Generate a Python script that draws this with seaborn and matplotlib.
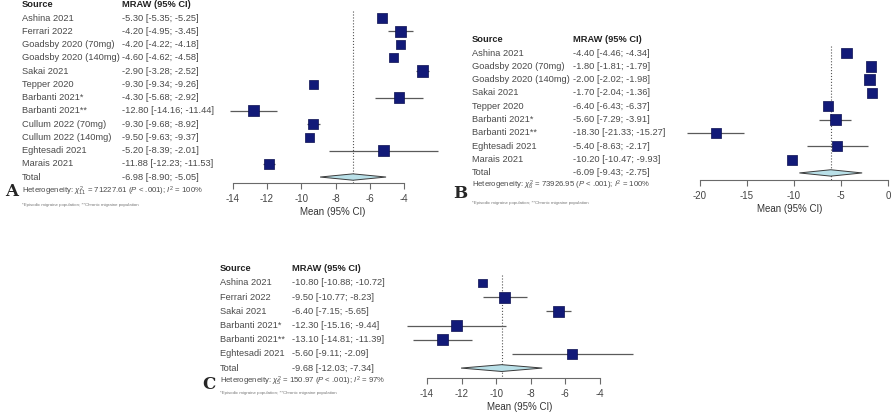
"""
Forest plots of MRAW for three outcomes (panels A, B, C)
"""

import matplotlib
matplotlib.use("Agg")
import matplotlib.pyplot as plt
import matplotlib.transforms as mtransforms
import numpy as np
import pandas as pd
import seaborn as sns


# ============================================================
# Data
# ============================================================

studies_a = [
    "Ashina 2021", "Ferrari 2022", "Goadsby 2020 (70mg)",
    "Goadsby 2020 (140mg)", "Sakai 2021", "Tepper 2020",
    "Barbanti 2021*", "Barbanti 2021**", "Cullum 2022 (70mg)",
    "Cullum 2022 (140mg)", "Eghtesadi 2021", "Marais 2021",
]
mean_a = [-5.30, -4.20, -4.20, -4.60, -2.90, -9.30, -4.30, -12.80, -9.30, -9.50, -5.20, -11.88]
low_a = [-5.35, -4.95, -4.22, -4.62, -3.28, -9.34, -5.68, -14.16, -9.68, -9.63, -8.39, -12.23]
high_a = [-5.25, -3.45, -4.18, -4.58, -2.52, -9.26, -2.92, -11.44, -8.92, -9.37, -2.01, -11.53]
weight_a = [8.2, 8.6, 7.6, 7.6, 8.8, 7.6, 8.6, 8.8, 8.4, 7.8, 8.4, 8.4]
total_a = [-6.98, -8.90, -5.05]
het_a = r"Heterogeneity: $\chi^2_{11}$ = 71227.61 ($P$ < .001); $I^2$ = 100%"

studies_b = [
    "Ashina 2021", "Goadsby 2020 (70mg)", "Goadsby 2020 (140mg)",
    "Sakai 2021", "Tepper 2020", "Barbanti 2021*", "Barbanti 2021**",
    "Eghtesadi 2021", "Marais 2021",
]
mean_b = [-4.40, -1.80, -2.00, -1.70, -6.40, -5.60, -18.30, -5.40, -10.20]
low_b = [-4.46, -1.81, -2.02, -2.04, -6.43, -7.29, -21.33, -8.63, -10.47]
high_b = [-4.34, -1.79, -1.98, -1.36, -6.37, -3.91, -15.27, -2.17, -9.93]
weight_b = [8.4, 8.6, 8.6, 8.6, 8.2, 8.4, 8.6, 8.4, 8.2]
total_b = [-6.09, -9.43, -2.75]
het_b = r"Heterogeneity: $\chi^2_{8}$ = 73926.95 ($P$ < .001); $I^2$ = 100%"

studies_c = [
    "Ashina 2021", "Ferrari 2022", "Sakai 2021",
    "Barbanti 2021*", "Barbanti 2021**", "Eghtesadi 2021",
]
mean_c = [-10.80, -9.50, -6.40, -12.30, -13.10, -5.60]
low_c = [-10.88, -10.77, -7.15, -15.16, -14.81, -9.11]
high_c = [-10.72, -8.23, -5.65, -9.44, -11.39, -2.09]
weight_c = [7.6, 8.8, 8.8, 8.8, 8.8, 8.2]
total_c = [-9.68, -12.03, -7.34]
het_c = r"Heterogeneity: $\chi^2_{5}$ = 150.97 ($P$ < .001); $I^2$ = 97%"

footnote = "*Episodic migraine population; **Chronic migraine population"


# ============================================================
# Theme
# ============================================================

sns.set_theme(style="white")
plt.rcParams["font.family"] = ["Liberation Sans", "DejaVu Sans"]
plt.rcParams["axes.unicode_minus"] = False
plt.rcParams["mathtext.fontset"] = "custom"
plt.rcParams["mathtext.rm"] = "Liberation Sans"
plt.rcParams["mathtext.it"] = "Liberation Sans:italic"

W, H = 894, 419
SQUARE = "#121a78"
LINE = "#5a5a5a"
TEXT = "#4a4a4a"
TABLE_SIZE = 6.7

fig = plt.figure(figsize=(W / 100, H / 100), dpi=100)


def add_axes_px(left, top, right, bottom):
    return fig.add_axes([left / W, 1 - bottom / H, (right - left) / W, (bottom - top) / H])


def forest(
    axes_box, xlim, ylim, ticks, bounds,
    studies, mean, low, high, weight, total,
    name_x, value_x, het_text, het_y, foot_y,
):
    ax = add_axes_px(*axes_box)
    rows = np.arange(len(studies))
    total_row = len(studies)

    # confidence intervals
    ax.hlines(rows, low, high, color=LINE, linewidth=0.9, zorder=1, clip_on=False)

    frame = pd.DataFrame({"mean": mean, "row": rows, "weight": weight})
    sns.scatterplot(
        data=frame,
        x="mean",
        y="row",
        size="weight",
        sizes=(40, 64),
        size_norm=(7.6, 8.8),
        marker="s",
        color=SQUARE,
        edgecolor="#0a0f50",
        linewidth=0.5,
        legend=False,
        zorder=2,
        clip_on=False,
        ax=ax,
    )

    # pooled estimate
    m, lo, hi = total
    ax.fill(
        [lo, m, hi, m],
        [total_row, total_row - 0.24, total_row, total_row + 0.24],
        facecolor="#b9e0e8",
        edgecolor="#3a3a3a",
        linewidth=0.7,
        zorder=2,
        clip_on=False,
    )
    ax.vlines(m, -0.55, ylim[0], color="#555555", linestyles=":", linewidth=0.8, zorder=0)

    ax.set_xlim(*xlim)
    ax.set_ylim(*ylim)
    ax.set_xticks(ticks)
    ax.set_xticklabels([f"{t:g}" for t in ticks])
    ax.set_yticks([])
    ax.set_ylabel("")
    ax.set_xlabel("Mean (95% CI)", fontsize=7, color="#333333", labelpad=2)
    for side in ["top", "left", "right"]:
        ax.spines[side].set_visible(False)
    ax.spines["bottom"].set_bounds(*bounds)
    ax.spines["bottom"].set_color("#6a6a6a")
    ax.spines["bottom"].set_linewidth(0.8)
    ax.tick_params(
        axis="x", direction="out", length=4, width=0.8,
        color="#6a6a6a", labelsize=7, labelcolor="#444444", pad=4,
        bottom=True,
    )
    ax.patch.set_alpha(0)

    # table text
    tr = mtransforms.blended_transform_factory(fig.transFigure, ax.transData)
    ax.text(name_x / W, -1, "Source", transform=tr, fontsize=TABLE_SIZE, fontweight="bold",
            color="#222222", va="center", clip_on=False)
    ax.text(value_x / W, -1, "MRAW (95% CI)", transform=tr, fontsize=TABLE_SIZE,
            fontweight="bold", color="#222222", va="center", clip_on=False)
    labels = list(studies) + ["Total"]
    values = list(zip(mean, low, high)) + [tuple(total)]
    for r, (name, (v, a, b)) in enumerate(zip(labels, values)):
        ax.text(name_x / W, r, name, transform=tr, fontsize=TABLE_SIZE, color=TEXT,
                va="center", clip_on=False)
        ax.text(value_x / W, r, f"{v:.2f} [{a:.2f}; {b:.2f}]", transform=tr,
                fontsize=TABLE_SIZE, color=TEXT, va="center", clip_on=False)

    fig.text(name_x / W, 1 - het_y / H, het_text, fontsize=5.6, color=TEXT, va="center")
    fig.text(name_x / W, 1 - foot_y / H, footnote, fontsize=3.2, color="#777777", va="center")
    return ax


# ============================================================
# Panel A
# ============================================================

forest(
    axes_box=(227.6, 4.75, 438.3, 183),
    xlim=(-14.3, -2.0),
    ylim=(12.45, -1),
    ticks=[-14, -12, -10, -8, -6, -4],
    bounds=(-14, -4),
    studies=studies_a, mean=mean_a, low=low_a, high=high_a,
    weight=weight_a, total=total_a,
    name_x=22, value_x=122,
    het_text=het_a, het_y=191, foot_y=205,
)
fig.text(5 / W, 1 - 192 / H, "A", fontsize=12, fontweight="bold",
         family="DejaVu Serif", va="center")

# ============================================================
# Panel B
# ============================================================

forest(
    axes_box=(685.9, 39.7, 892.7, 180),
    xlim=(-21.5, 0.5),
    ylim=(9.53, -1),
    ticks=[-20, -15, -10, -5, 0],
    bounds=(-20, 0),
    studies=studies_b, mean=mean_b, low=low_b, high=high_b,
    weight=weight_b, total=total_b,
    name_x=472, value_x=573,
    het_text=het_b, het_y=185, foot_y=203,
)
fig.text(453 / W, 1 - 193 / H, "B", fontsize=12, fontweight="bold",
         family="DejaVu Serif", va="center")

# ============================================================
# Panel C
# ============================================================

forest(
    axes_box=(404.5, 268.8, 634.6, 378),
    xlim=(-15.3, -2.0),
    ylim=(6.7, -1),
    ticks=[-14, -12, -10, -8, -6, -4],
    bounds=(-14, -4),
    studies=studies_c, mean=mean_c, low=low_c, high=high_c,
    weight=weight_c, total=total_c,
    name_x=220, value_x=292,
    het_text=het_c, het_y=381, foot_y=393,
)
fig.text(202 / W, 1 - 384 / H, "C", fontsize=12, fontweight="bold",
         family="DejaVu Serif", va="center")

fig.savefig("out.png", dpi=100)
plt.close(fig)
